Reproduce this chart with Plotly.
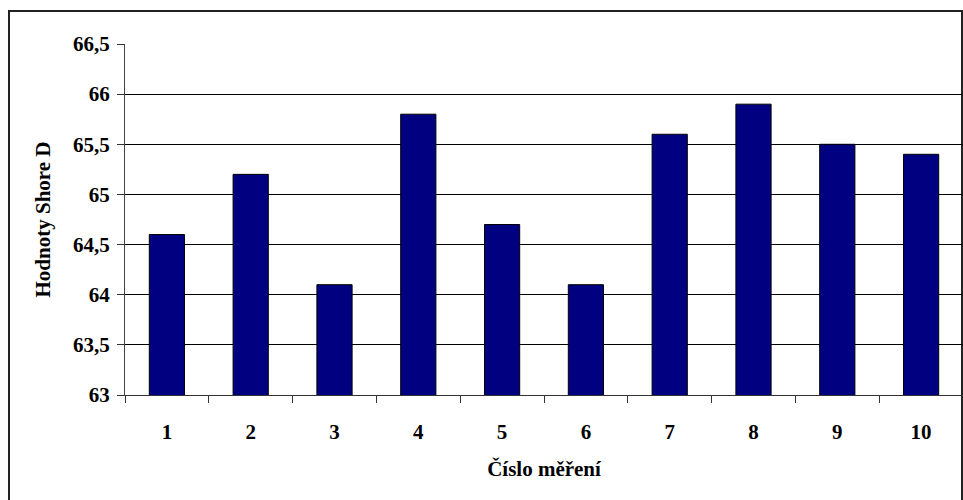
import plotly.graph_objects as go

# Shore D hardness per measurement
mereni = ["1", "2", "3", "4", "5", "6", "7", "8", "9", "10"]
hodnoty = [64.6, 65.2, 64.1, 65.8, 64.7, 64.1, 65.6, 65.9, 65.5, 65.4]

y_min, y_max, y_step = 63, 66.5, 0.5

W, H = 963, 500
ML, MR, MT, MB = 125, 0, 44, 105
pw, ph = W - ML - MR, H - MT - MB

serif = "Liberation Serif"
fs = 21

fig = go.Figure(
    go.Bar(
        x=mereni,
        y=hodnoty,
        marker=dict(color="#000080", line=dict(color="#000000", width=1)),
        width=0.42,
    )
)

fig.update_layout(
    width=W,
    height=H,
    margin=dict(l=ML, r=MR, t=MT, b=MB),
    paper_bgcolor="white",
    plot_bgcolor="white",
    separators=", ",
    showlegend=False,
    font=dict(family=serif, size=fs, color="black", weight="bold"),
)

fig.update_xaxes(
    type="category",
    showgrid=False,
    showline=True,
    linecolor="#333333",
    linewidth=1,
    ticks="outside",
    tickson="boundaries",
    ticklen=7,
    tickcolor="#333333",
    ticklabelstandoff=18,
    tickfont=dict(family=serif, size=fs, weight="bold", color="black"),
    title=dict(text="Číslo měření", font=dict(family=serif, size=fs, weight="bold"), standoff=18),
)

fig.update_yaxes(
    range=[y_min, y_max],
    dtick=y_step,
    showgrid=True,
    gridcolor="#000000",
    gridwidth=1,
    showline=True,
    linecolor="#444444",
    linewidth=1,
    ticks="outside",
    ticklen=7,
    tickcolor="#333333",
    ticklabelstandoff=3,
    zeroline=False,
    tickfont=dict(family=serif, size=fs, weight="bold", color="black"),
    title=dict(text="Hodnoty Shore D", font=dict(family=serif, size=fs, weight="bold"), standoff=16),
)

# Outer chart frame
fig.add_shape(
    type="rect",
    xref="paper",
    yref="paper",
    x0=(9 - ML) / pw,
    x1=(962 - ML) / pw,
    y0=(H - MB - 520) / ph,
    y1=(H - MB - 11) / ph,
    line=dict(color="#222222", width=2),
    fillcolor="rgba(0,0,0,0)",
    layer="below",
)

fig.write_html("out.html")
